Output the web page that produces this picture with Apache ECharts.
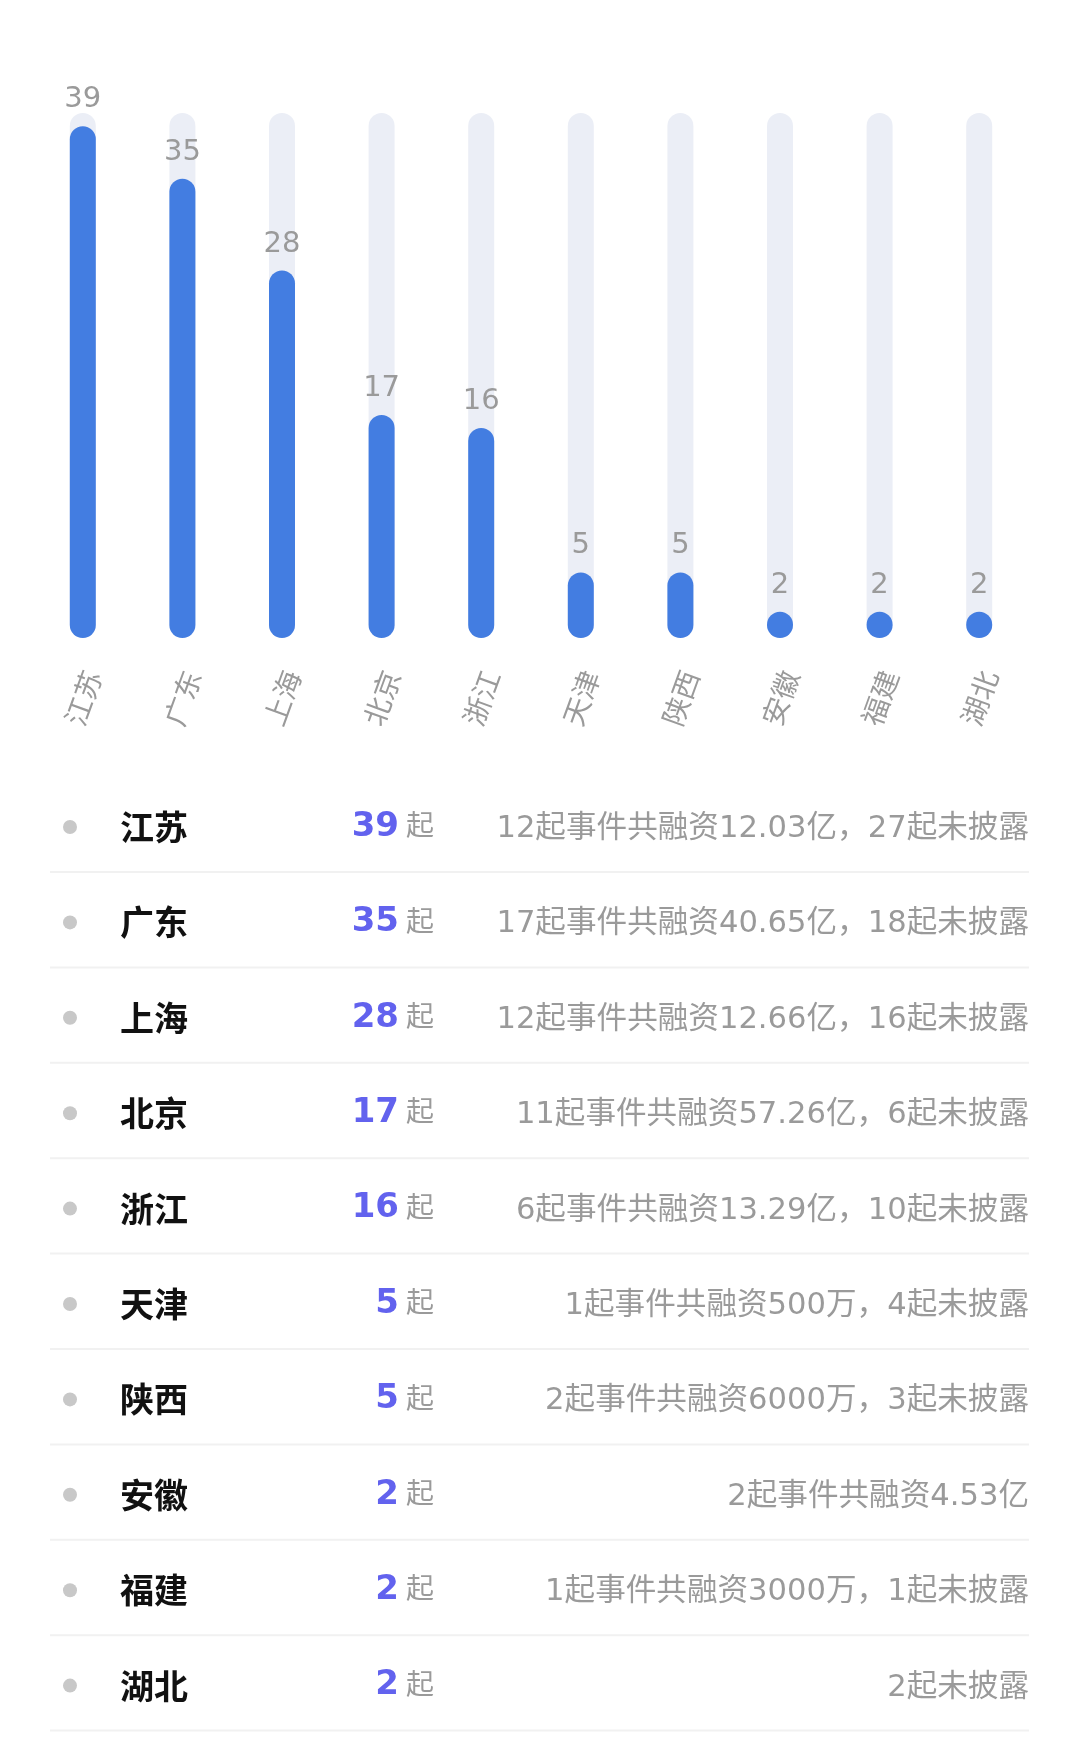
<!DOCTYPE html>
<html>
<head>
<meta charset="utf-8">
<style>
html,body{margin:0;padding:0;background:#fff;}
#chart{width:1080px;height:1763px;}
</style>
<script src="https://cdn.jsdelivr.net/npm/echarts@6/dist/echarts.min.js"></script>
</head>
<body>
<div id="chart"></div>
<script>
const categories = ['江苏','广东','上海','北京','浙江','天津','陕西','安徽','福建','湖北'];
const values = [39,35,28,17,16,5,5,2,2,2];
const unitLabel = '起';
const descriptions = [
  '12起事件共融资12.03亿，27起未披露',
  '17起事件共融资40.65亿，18起未披露',
  '12起事件共融资12.66亿，16起未披露',
  '11起事件共融资57.26亿，6起未披露',
  '6起事件共融资13.29亿，10起未披露',
  '1起事件共融资500万，4起未披露',
  '2起事件共融资6000万，3起未披露',
  '2起事件共融资4.53亿',
  '1起事件共融资3000万，1起未披露',
  '2起未披露'
];
const axisMax = 40;

const FONT = 'DejaVu Sans, "Noto Sans CJK SC", sans-serif';
const rowTop = 827, rowStep = 95.4;
const graphics = [];
categories.forEach((name, i) => {
  const y = rowTop + i * rowStep;
  graphics.push({type:'circle', shape:{cx:70, cy:y, r:7}, style:{fill:'#c8c8c8'}, silent:true});
  graphics.push({type:'text', x:120, y:y, style:{text:name, font:'bold 34px "Noto Sans CJK SC", sans-serif', fill:'#111', textAlign:'left', textVerticalAlign:'middle'}});
  graphics.push({type:'text', x:399, y:y, style:{text:String(values[i]), font:'bold 34px ' + FONT, fill:'#6262ee', textAlign:'right', textVerticalAlign:'middle'}});
  graphics.push({type:'text', x:406, y:y + 1, style:{text:unitLabel, font:'28px ' + FONT, fill:'#9a9a9a', textAlign:'left', textVerticalAlign:'middle'}});
  graphics.push({type:'text', x:1029, y:y + 2, style:{text:descriptions[i], font:'30.6px ' + FONT, fill:'#9a9a9a', textAlign:'right', textVerticalAlign:'middle'}});
  graphics.push({type:'line', shape:{x1:50, y1:y + 45, x2:1029, y2:y + 45}, style:{stroke:'#f1f1f1', lineWidth:2}, silent:true});
});

const chart = echarts.init(document.getElementById('chart'), null, {renderer:'canvas'});
chart.setOption({
  animation:false,
  backgroundColor:'#fff',
  grid:{left:33, right:51, top:113, bottom:1125, containLabel:false},
  xAxis:{
    type:'category',
    data:categories,
    axisLine:{show:false},
    axisTick:{show:false},
    axisLabel:{rotate:70, margin:30, verticalAlign:'top', color:'#9a9a9a', fontSize:28, fontFamily:FONT}
  },
  yAxis:{type:'value', min:0, max:axisMax, show:false, splitLine:{show:false}},
  series:[{
    type:'bar',
    data:values,
    barWidth:26,
    showBackground:true,
    backgroundStyle:{color:'#ebeef6', borderRadius:13},
    itemStyle:{color:'#437de1', borderRadius:13},
    label:{show:true, position:'top', distance:12, color:'#9a9a9a', fontSize:29, fontFamily:FONT}
  }],
  graphic:graphics
});
</script>
</body>
</html>
